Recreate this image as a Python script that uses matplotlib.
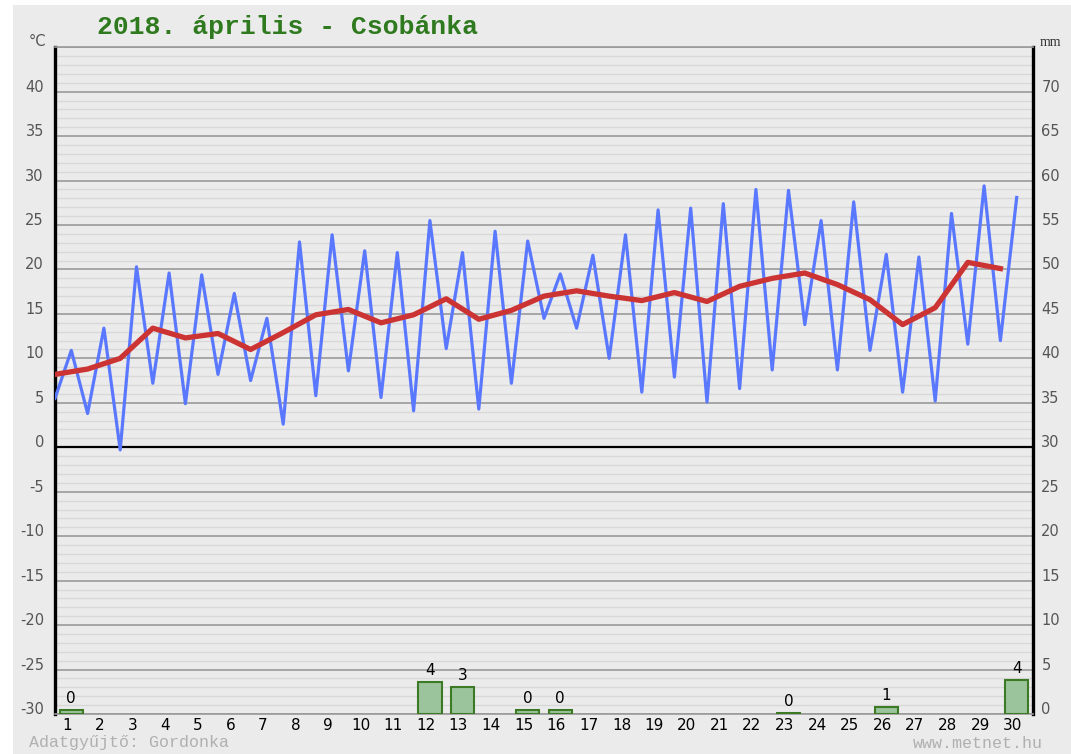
import matplotlib
matplotlib.use("Agg")
import matplotlib.pyplot as plt
import numpy as np
from matplotlib.patches import Rectangle
from matplotlib.transforms import ScaledTranslation

plt.rcParams["axes.unicode_minus"] = False

# daily data, April 2018, Csobánka
days = list(range(1, 31))
t_min = [5.5, 3.8, -0.3, 7.2, 4.9, 8.2, 7.5, 2.6, 5.8, 8.6,
         5.6, 4.1, 11.1, 4.3, 7.2, 14.5, 13.4, 10.0, 6.2, 7.9,
         5.1, 6.6, 8.7, 13.8, 8.7, 10.9, 6.2, 5.2, 11.6, 12.0]
t_max = [10.9, 13.4, 20.3, 19.6, 19.4, 17.3, 14.5, 23.1, 23.9, 22.1,
         21.9, 25.5, 21.9, 24.3, 23.2, 19.5, 21.6, 23.9, 26.7, 26.9,
         27.4, 29.0, 28.9, 25.5, 27.6, 21.7, 21.4, 26.3, 29.4, 28.1]
t_mean = [8.2, 8.8, 10.0, 13.4, 12.3, 12.8, 11.0, 12.9, 14.9, 15.5,
          14.0, 14.9, 16.7, 14.4, 15.4, 17.0, 17.6, 17.0, 16.5, 17.4,
          16.4, 18.1, 19.0, 19.6, 18.3, 16.6, 13.8, 15.7, 20.8, 20.1]
rain_days = [1, 12, 13, 15, 16, 23, 26, 30]
rain_mm = [0.4, 3.6, 3.0, 0.4, 0.4, 0.1, 0.8, 3.8]

W, H = 1071, 754
fig = plt.figure(figsize=(W / 100, H / 100), dpi=100, facecolor="white")
fig.add_artist(Rectangle((13 / W, 0), 1, (H - 5) / H, transform=fig.transFigure,
                         facecolor="#ebebeb", edgecolor="none", zorder=-10))

ax = fig.add_axes([55 / W, 40 / H, 978 / W, 666.8 / H])
ax.set_facecolor("#ebebeb")
ax.set_xlim(0, 30)
ax.set_ylim(-30, 45)

# grid: minor every 1 degree, major every 5
for v in range(-30, 46):
    if v % 5 == 0:
        ax.axhline(v, color="#9a9a9a", lw=1.2, zorder=0.5)
    else:
        ax.axhline(v, color="#d8d8d8", lw=1.0, zorder=0.4)
ax.axhline(0, color="black", lw=1.6, zorder=1)

# temperature: min at start of day, max at mid-day
x_mm = np.ravel(np.column_stack([np.array(days) - 1.0, np.array(days) - 0.5]))
y_mm = np.ravel(np.column_stack([t_min, t_max]))
ax.plot(x_mm, y_mm, color="#5a78ff", lw=2.3, zorder=3)
ax.plot(np.array(days) - 1.0, t_mean, color="#cc3333", lw=3.8, zorder=4,
        solid_joinstyle="round")

# day labels
ax.set_xticks(np.array(days) - 0.5)
ax.set_xticklabels([str(d) for d in days])
ax.tick_params(axis="x", length=0, pad=3, labelsize=11, labelcolor="black")
for lab in ax.get_xticklabels():
    lab.set_transform(lab.get_transform() + ScaledTranslation(-0.04, 0, fig.dpi_scale_trans))

ax.set_yticks(range(-30, 41, 5))
ax.tick_params(axis="y", length=0, pad=8, labelsize=10.5, labelcolor="#555555")
for lab in ax.get_yticklabels():
    lab.set_transform(lab.get_transform() + ScaledTranslation(0, 0.06, fig.dpi_scale_trans))

for s in ["left", "right"]:
    ax.spines[s].set_color("black")
    ax.spines[s].set_linewidth(2.4)
for s in ["top", "bottom"]:
    ax.spines[s].set_color("#9a9a9a")
    ax.spines[s].set_linewidth(1.2)

# precipitation on the right axis
ax2 = ax.twinx()
ax2.set_ylim(0, 75)
ax2.bar(np.array(rain_days) - 0.5, rain_mm, width=0.72, color="#9cc49c",
        edgecolor="#3c7a26", linewidth=1.5, zorder=3)
for d, r in zip(rain_days, rain_mm):
    ax2.annotate(f"{round(r)}", (d - 0.5, r), xytext=(0, 3), textcoords="offset points",
                 ha="center", va="bottom", fontsize=11, color="black")
ax2.set_yticks(range(0, 71, 5))
ax2.tick_params(axis="y", length=0, pad=6, labelsize=10.5, labelcolor="#555555")
for lab in ax2.get_yticklabels():
    lab.set_transform(lab.get_transform() + ScaledTranslation(0, 0.06, fig.dpi_scale_trans))
for s in ax2.spines.values():
    s.set_visible(False)

# texts
fig.text(97 / W, 1 - 27 / H, "2018. április - Csobánka", fontsize=19, fontweight="bold",
         family="Liberation Mono", color="#2f7a1f", ha="left", va="center")
fig.text(37 / W, 1 - 41 / H, "°C", fontsize=10.5, color="#555555", ha="center", va="center")
fig.text(1050 / W, 1 - 42 / H, "mm", fontsize=10, family="Liberation Serif",
         color="#333333", ha="center", va="center")
fig.text(29 / W, 1 - 743 / H, "Adatgyűjtő: Gordonka", fontsize=12, family="Liberation Mono",
         color="#b0b0b0", ha="left", va="center")
fig.text(1043 / W, 1 - 743 / H, "www.metnet.hu", fontsize=12, family="Liberation Mono",
         color="#b0b0b0", ha="right", va="center")

fig.savefig("out.png", dpi=100, facecolor=fig.get_facecolor())
